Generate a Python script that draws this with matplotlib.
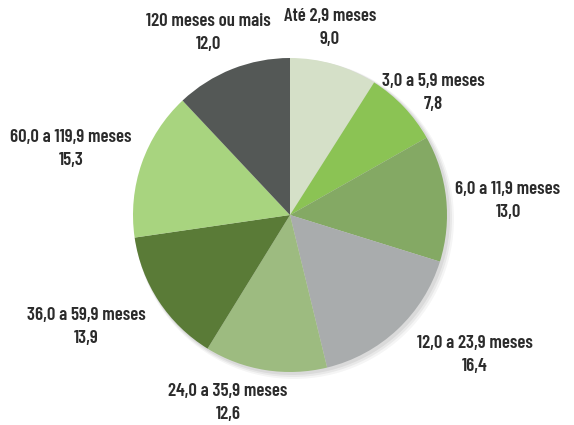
import matplotlib.pyplot as plt
from matplotlib.patches import Circle

categories = ['Até 2,9 meses', '3,0 a 5,9 meses', '6,0 a 11,9 meses', '12,0 a 23,9 meses',
              '24,0 a 35,9 meses', '36,0 a 59,9 meses', '60,0 a 119,9 meses', '120 meses ou mais']
values = [9.0, 7.8, 13.0, 16.4, 12.6, 13.9, 15.3, 12.0]
colors = ['#d5e0c8', '#8bc354', '#84a964', '#a9acad', '#9dbb80', '#5a7b37', '#a8d47f', '#545856']

# label block centres in pixel coordinates (top-left origin)
label_pos = [(330, 28), (433, 93), (508, 201), (475, 355),
             (228, 403), (86, 327), (71, 149), (208, 33)]

W, H = 574, 425
fig = plt.figure(figsize=(W / 100, H / 100), dpi=100)
ax = fig.add_axes([0, 0, 1, 1])

cx, cy, r = 290, H - 215, 157

# soft shadow
for i, a in enumerate([0.06, 0.05, 0.04]):
    ax.add_patch(Circle((cx + 2 + i, cy - 2 - i), r + 1 + i, color='black', alpha=a, lw=0, zorder=0))

ax.pie(values, colors=colors, startangle=90, counterclock=False, center=(cx, cy), radius=r,
       wedgeprops=dict(linewidth=0), frame=True)
ax.set_xlim(0, W)
ax.set_ylim(0, H)
ax.set_aspect('equal')
ax.axis('off')

for name, v, (px, py) in zip(categories, values, label_pos):
    txt = f"{name}\n{v:.1f}".replace('.', ',')
    ax.text(px, H - py, txt, ha='center', va='center', fontsize=13.5, fontweight=600,
            family=['Barlow Condensed', 'DejaVu Sans'], color='#2b2b2b', linespacing=1.45)

fig.savefig('out.png', dpi=100)
